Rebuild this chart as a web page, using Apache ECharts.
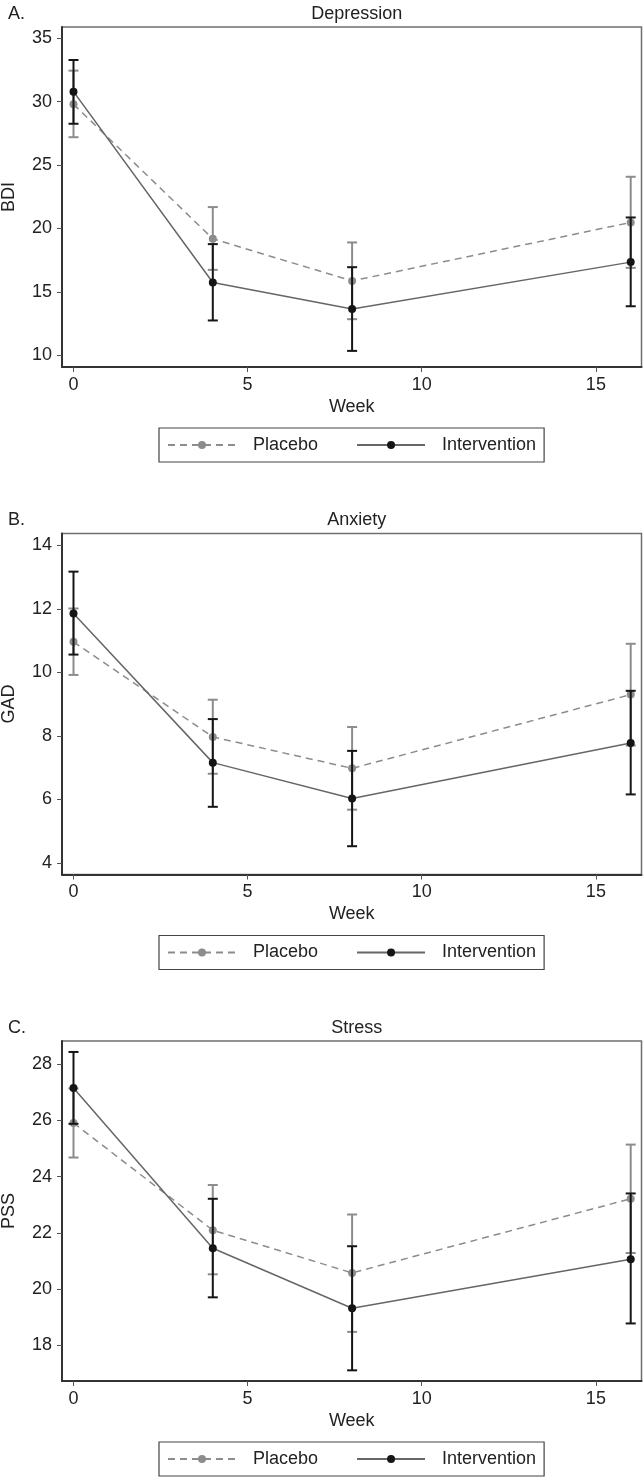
<!DOCTYPE html>
<html>
<head>
<meta charset="utf-8">
<script src="https://cdn.jsdelivr.net/npm/echarts@6/dist/echarts.min.js"></script>
<style>
  html, body { margin: 0; padding: 0; background: #fff; }
  #chart { width: 644px; height: 1480px; }
</style>
</head>
<body>
<div id="chart"></div>
<script>
// weeks of measurement
var weeks = [0, 4, 8, 16];
var xTicks = [0, 5, 10, 15];

// A. Depression (BDI)
var placeboMeanA = [29.8, 19.19, 15.87, 20.48];
var placeboLowA = [27.2, 16.74, 12.85, 16.9];
var placeboHighA = [32.45, 21.69, 18.9, 24.08];
var interventionMeanA = [30.79, 15.74, 13.66, 17.35];
var interventionLowA = [28.26, 12.75, 10.35, 13.87];
var interventionHighA = [33.29, 18.77, 16.95, 20.87];
var yTicksA = [10, 15, 20, 25, 30, 35];

// B. Anxiety (GAD)
var placeboMeanB = [10.96, 7.97, 6.98, 9.3];
var placeboLowB = [9.92, 6.81, 5.68, 7.7];
var placeboHighB = [12.01, 9.14, 8.28, 10.9];
var interventionMeanB = [11.85, 7.16, 6.03, 7.78];
var interventionLowB = [10.56, 5.77, 4.53, 6.16];
var interventionHighB = [13.17, 8.53, 7.53, 9.42];
var yTicksB = [4, 6, 8, 10, 12, 14];

// C. Stress (PSS)
var placeboMeanC = [25.91, 22.09, 20.57, 23.21];
var placeboLowC = [24.68, 20.52, 18.47, 21.28];
var placeboHighC = [27.14, 23.7, 22.65, 25.14];
var interventionMeanC = [27.16, 21.45, 19.31, 21.06];
var interventionLowC = [25.88, 19.7, 17.1, 18.77];
var interventionHighC = [28.44, 23.21, 21.52, 23.4];
var yTicksC = [18, 20, 22, 24, 26, 28];

var FONT = "'Liberation Sans', Arial, sans-serif";
var FS = 18;
var placeboColor = '#8c8c8c';
var interventionColor = '#151515';

var panels = [
  { tag: 'A.', title: 'Depression', yName: 'BDI', top: 27, height: 340, yMin: 9.08, yMax: 35.89, yTicks: yTicksA,
    pm: placeboMeanA, pl: placeboLowA, ph: placeboHighA, im: interventionMeanA, il: interventionLowA, ih: interventionHighA },
  { tag: 'B.', title: 'Anxiety', yName: 'GAD', top: 533.5, height: 341, yMin: 3.64, yMax: 14.37, yTicks: yTicksB,
    pm: placeboMeanB, pl: placeboLowB, ph: placeboHighB, im: interventionMeanB, il: interventionLowB, ih: interventionHighB },
  { tag: 'C.', title: 'Stress', yName: 'PSS', top: 1041, height: 340, yMin: 16.72, yMax: 28.83, yTicks: yTicksC,
    pm: placeboMeanC, pl: placeboLowC, ph: placeboHighC, im: interventionMeanC, il: interventionLowC, ih: interventionHighC }
];

function pairs(ys) {
  return weeks.map(function (w, i) { return [w, ys[i]]; });
}
function ranges(lo, hi) {
  return weeks.map(function (w, i) { return [w, lo[i], hi[i]]; });
}

// vertical bar with caps
function errorBar(color, width) {
  return function (params, api) {
    var x = api.value(0);
    var p1 = api.coord([x, api.value(1)]);
    var p2 = api.coord([x, api.value(2)]);
    var cap = 5;
    var style = { stroke: color, lineWidth: width };
    return {
      type: 'group',
      children: [
        { type: 'line', shape: { x1: p1[0], y1: p1[1], x2: p2[0], y2: p2[1] }, style: style },
        { type: 'line', shape: { x1: p1[0] - cap, y1: p1[1], x2: p1[0] + cap, y2: p1[1] }, style: style },
        { type: 'line', shape: { x1: p2[0] - cap, y1: p2[1], x2: p2[0] + cap, y2: p2[1] }, style: style }
      ]
    };
  };
}

var option = {
  animation: false,
  backgroundColor: '#fff',
  textStyle: { fontFamily: FONT },
  title: [],
  legend: [],
  grid: [],
  xAxis: [],
  yAxis: [],
  series: []
};

panels.forEach(function (p, k) {
  var plotLeft = 62, plotRight = 641.5;
  var mid = (plotLeft + plotRight) / 2;
  option.title.push({
    text: p.tag, left: 3, top: p.top - 27,
    textStyle: { fontSize: FS, fontWeight: 'normal', color: '#222', fontFamily: FONT }
  });
  option.title.push({
    text: p.title, left: mid, textAlign: 'center', top: p.top - 27,
    textStyle: { fontSize: FS, fontWeight: 'normal', color: '#222', fontFamily: FONT }
  });
  option.grid.push({
    left: plotLeft, top: p.top, width: plotRight - plotLeft, height: p.height,
    show: true, borderColor: '#6f6f6f', borderWidth: 1.5, backgroundColor: '#fff',
    containLabel: false, outerBoundsMode: 'none'
  });
  option.xAxis.push({
    type: 'value', gridIndex: k, min: -0.33, max: 16.31,
    name: 'Week', nameLocation: 'middle', nameGap: 31,
    nameTextStyle: { fontSize: FS, color: '#222', fontFamily: FONT },
    axisLine: { show: true, onZero: false, lineStyle: { color: '#333', width: 2 } },
    axisTick: { show: true, length: 5, lineStyle: { color: '#555', width: 1 }, customValues: xTicks },
    axisLabel: { fontSize: FS, color: '#222', margin: 9, customValues: xTicks, fontFamily: FONT },
    splitLine: { show: false }
  });
  option.yAxis.push({
    type: 'value', gridIndex: k, min: p.yMin, max: p.yMax,
    name: p.yName, nameLocation: 'middle', nameGap: 44, nameRotate: 90,
    nameTextStyle: { fontSize: FS, color: '#222', fontFamily: FONT },
    axisLine: { show: true, onZero: false, lineStyle: { color: '#333', width: 2 } },
    axisTick: { show: true, length: 5, lineStyle: { color: '#555', width: 1 }, customValues: p.yTicks },
    axisLabel: { fontSize: FS, color: '#222', margin: 10, customValues: p.yTicks, fontFamily: FONT },
    splitLine: { show: false }
  });
  option.legend.push({
    left: 159, top: p.top + p.height + 61,
    orient: 'horizontal',
    itemWidth: 68, itemHeight: 10, itemGap: 38,
    padding: [8, 8, 8, 8],
    borderColor: '#444', borderWidth: 1.2, backgroundColor: '#fff',
    textStyle: { fontSize: FS, color: '#222', fontFamily: FONT, padding: [0, 0, 0, 12] },
    data: ['Placebo', 'Intervention']
  });

  // placebo
  option.series.push({
    name: 'Placebo CI', type: 'custom', xAxisIndex: k, yAxisIndex: k, z: 2,
    renderItem: errorBar(placeboColor, 2), data: ranges(p.pl, p.ph), silent: true
  });
  option.series.push({
    name: 'Placebo', type: 'line', xAxisIndex: k, yAxisIndex: k, z: 3,
    data: pairs(p.pm), symbol: 'circle', symbolSize: 8,
    itemStyle: { color: placeboColor },
    lineStyle: { color: placeboColor, width: 1.5, type: [7, 5] }
  });
  // intervention
  option.series.push({
    name: 'Intervention CI', type: 'custom', xAxisIndex: k, yAxisIndex: k, z: 4,
    renderItem: errorBar(interventionColor, 2), data: ranges(p.il, p.ih), silent: true
  });
  option.series.push({
    name: 'Intervention', type: 'line', xAxisIndex: k, yAxisIndex: k, z: 5,
    data: pairs(p.im), symbol: 'circle', symbolSize: 8,
    itemStyle: { color: interventionColor },
    lineStyle: { color: '#666', width: 1.5 }
  });
});

var chart = echarts.init(document.getElementById('chart'), null, { renderer: 'canvas' });
chart.setOption(option);
</script>
</body>
</html>
